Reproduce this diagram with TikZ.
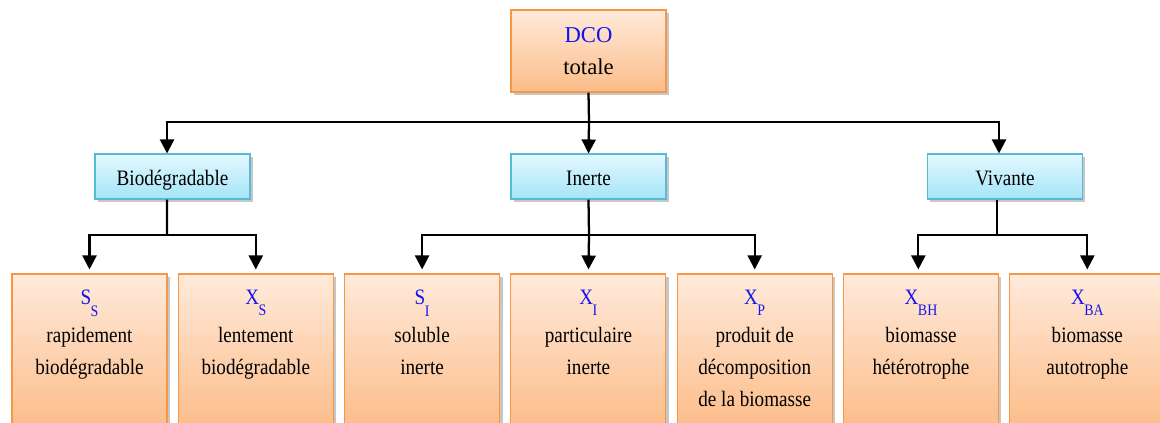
\documentclass[tikz,border=0pt]{standalone}
\usepackage{fontspec}
\setmainfont{Liberation Serif}[FakeStretch=0.87]
\newfontfamily\plainserif{Liberation Serif}
\usetikzlibrary{arrows.meta,shadows}
\definecolor{orbord}{RGB}{247,150,70}
\definecolor{ortop}{RGB}{255,234,219}
\definecolor{orbot}{RGB}{252,188,136}
\definecolor{blbord}{RGB}{88,186,212}
\definecolor{bltop}{RGB}{228,248,254}
\definecolor{blbot}{RGB}{164,229,248}
\definecolor{txtblue}{RGB}{20,20,240}
\newcommand\lowsub[1]{\kern-0.4pt\raisebox{-8.4pt}{\fontsize{12}{12}\selectfont #1}}
\begin{document}
\begin{tikzpicture}[x=0.75pt,y=-0.75pt,
  every node/.style={font=\fontsize{16.5}{24}\selectfont},
  sh/.style={drop shadow={shadow xshift=2.2pt,shadow yshift=-2.2pt,opacity=0.22,fill=black}},
  orbox/.style={sh,draw=orbord,line width=0.8pt,top color=ortop,bottom color=orbot,
    minimum width=116.25pt,inner sep=0pt,align=center},
  blbox/.style={sh,draw=blbord,line width=0.8pt,top color=bltop,bottom color=blbot,
    minimum width=116.25pt,minimum height=33.75pt,inner sep=0pt,text height=12.8pt,text depth=0pt},
  subtext/.style={anchor=north,inner sep=0pt,align=center},
  line/.style={line width=1.7pt},
  arr/.style={line width=1.7pt,-{Triangle[width=10.5pt,length=10.5pt]}},
  arrs/.style={arr,shorten >=3pt}]
\useasboundingbox (0,0) rectangle (1160,423);
\clip (0,0) rectangle (1160,423);
% top box
\node[orbox,minimum height=61.5pt,font=\plainserif\fontsize{17}{24}\selectfont] (dco) at (588.5,51) {\textcolor{txtblue}{DCO}\\ totale};
% middle boxes
\node[blbox] (bio) at (172.5,176.5) {Biodégradable};
\node[blbox] (ine) at (588.5,176.5) {Inerte};
\node[blbox] (viv) at (1005,176.5) {Vivante};
% bottom boxes
\foreach \n/\cx in {ss/89.5,xs/255.8,si/422.1,xi/588.4,xp/754.7,xbh/921,xba/1087.3}{
  \node[orbox,minimum height=117pt] (\n) at (\cx,352) {};
}
\node[subtext] (ss-t) at (89.5,290) {\textcolor{txtblue}{S\lowsub{S}}\\[4.5pt] rapidement\\ biodégradable};
\node[subtext] (xs-t) at (255.8,290) {\textcolor{txtblue}{X\lowsub{S}}\\[4.5pt] lentement\\ biodégradable};
\node[subtext] (si-t) at (422.1,290) {\textcolor{txtblue}{S\lowsub{I}}\\[4.5pt] soluble\\ inerte};
\node[subtext] (xi-t) at (588.4,290) {\textcolor{txtblue}{X\lowsub{I}}\\[4.5pt] particulaire\\ inerte};
\node[subtext] (xp-t) at (754.7,290) {\textcolor{txtblue}{X\lowsub{P}}\\[4.5pt] produit de\\ décomposition\\ de la biomasse};
\node[subtext] (xbh-t) at (921,290) {\textcolor{txtblue}{X\lowsub{BH}}\\[4.5pt] biomasse\\ hétérotrophe};
\node[subtext] (xba-t) at (1087.3,290) {\textcolor{txtblue}{X\lowsub{BA}}\\[4.5pt] biomasse\\ autotrophe};
% connectors level 1
\coordinate (b0) at (589,122);
\draw[line] (dco.south) -- (b0);
\draw[arr] (b0) -| ([xshift=-4.1pt]bio.north);
\draw[arr] (b0) -| ([xshift=-4.5pt]viv.north);
\draw[arr] (b0) -- (ine.north);
% connectors level 2
\coordinate (b1) at (167,235);
\draw[line] ([xshift=-4.1pt]bio.south) -- (b1);
\draw[arrs] (b1) -| (ss.north);
\draw[arrs] (b1) -| (xs.north);
\coordinate (b2) at (589,235);
\draw[line] (ine.south) -- (b2);
\draw[arrs] (b2) -| (si.north);
\draw[arrs] (b2) -- (xi.north);
\draw[arrs] (b2) -| (xp.north);
\coordinate (b3) at (997,235);
\draw[line] ([xshift=-6pt]viv.south) -- (b3);
\draw[arrs] (b3) -| ([xshift=-2pt]xbh.north);
\draw[arrs] (b3) -| (xba.north);
\end{tikzpicture}
\end{document}
